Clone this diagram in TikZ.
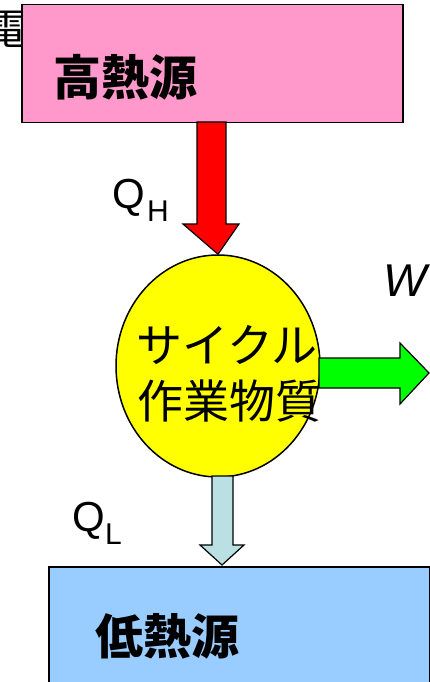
\documentclass[tikz,border=0pt]{standalone}
\usepackage{fontspec}
\setmainfont{Liberation Sans}
\newfontfamily\jp{Noto Sans CJK JP}
\usetikzlibrary{shapes.geometric}
\definecolor{hotpink}{HTML}{FF99CC}
\definecolor{coldblue}{HTML}{99CCFF}
\definecolor{cycyellow}{HTML}{FFFF00}
\definecolor{arrred}{HTML}{FF0000}
\definecolor{arrgreen}{HTML}{00FF00}
\definecolor{arrpale}{HTML}{BBE0E3}
\tikzset{
  srcbox/.style={draw=black, line width=1.5pt, inner sep=0pt, anchor=north west},
  blockarrow/.style={draw=black, line width=1.2pt, line join=miter},
  boldjp/.style={font=\jp\bfseries\fontsize{48}{48}\selectfont, anchor=base west, inner sep=0pt},
  cycjp/.style={font=\jp\fontsize{46}{46}\selectfont, anchor=base west, inner sep=0pt},
  qlabel/.style={font=\fontsize{42}{42}\selectfont, anchor=base west, inner sep=0pt},
  sublabel/.style={font=\fontsize{30}{30}\selectfont, anchor=base west, inner sep=0pt},
}
\begin{document}
\begin{tikzpicture}[x=1pt,y=-1pt]
\useasboundingbox (0,0) rectangle (430,682);
\clip (0,0) rectangle (430,682);
\node[font=\jp\fontsize{42}{42}\selectfont, anchor=base west, inner sep=0pt] (den) at (-15,45) {電};
% high temperature source
\node[srcbox, fill=hotpink, minimum width=381pt, minimum height=118pt] (hot) at (21,4) {};
\node[boldjp] (hotlabel) at (53,96) {高熱源};
% low temperature source
\node[srcbox, fill=coldblue, minimum width=381pt, minimum height=140pt] (cold) at (48,566) {};
\node[boldjp] (coldlabel) at (95,654) {低熱源};
% cycle
\node[draw=black, line width=1.5pt, fill=cycyellow, ellipse, minimum width=204pt, minimum height=222pt, inner sep=0pt] (cyc) at (218,366) {};
% arrows
\coordinate (redtip) at (cyc.north);
\draw[blockarrow, fill=arrred] (197,122) -- (197,224) -- (183,224) -- (redtip) -- (239,224) -- (226,224) -- (226,122) -- cycle;
\coordinate (greentail) at (319,373);
\draw[blockarrow, fill=arrgreen] (319,358) -- (400,358) -- (400,343) -- (429,373) -- (400,404) -- (400,388) -- (319,388) -- cycle;
\coordinate (paletip) at (222,565);
\draw[blockarrow, fill=arrpale] (212,476) -- (212,545) -- (200,545) -- (paletip) -- (244,545) -- (233,545) -- (233,476) -- cycle;
% cycle text
\node[cycjp] (cyc1) at (136,362) {サイクル};
\node[cycjp] (cyc2) at (137,418) {作業物質};
% labels
\node[qlabel] (qh) at (112,208) {Q};
\node[sublabel] (qhs) at (147,221) {H};
\node[qlabel] (ql) at (72,531) {Q};
\node[sublabel] (qls) at (105,544) {L};
\node[font=\itshape\fontsize{46}{46}\selectfont, anchor=base west, inner sep=0pt] (w) at (383,296) {W};
\end{tikzpicture}
\end{document}
